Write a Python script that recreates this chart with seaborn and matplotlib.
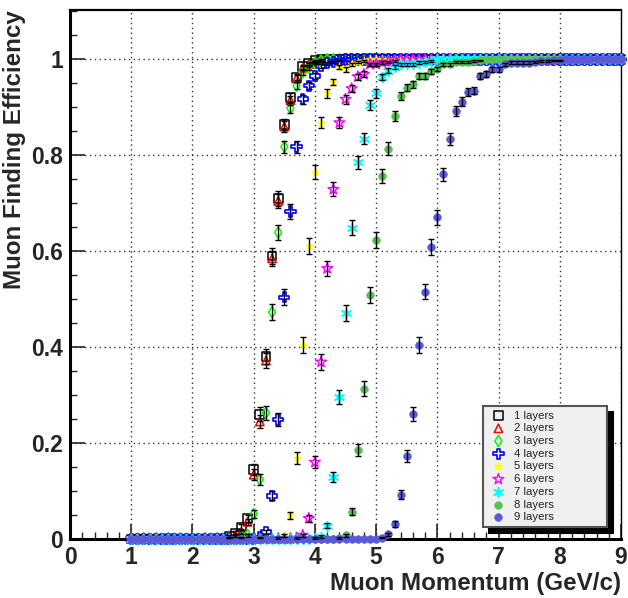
import numpy as np
import pandas as pd
import matplotlib
matplotlib.use("Agg")
import matplotlib.pyplot as plt
from matplotlib.ticker import FuncFormatter
import seaborn as sns

# ---------------- data ----------------
momentum = np.round(np.arange(1.0, 9.0001, 0.1), 1)   # GeV/c bin centres

def series(n_zero, ramp):
    vals = [0.0] * n_zero + list(ramp)
    return vals + [1.0] * (len(momentum) - len(vals))

eff_1 = series(16, [0.005, 0.012, 0.025, 0.043, 0.145, 0.26, 0.38, 0.59, 0.71, 0.865,
                    0.92, 0.963, 0.985, 0.992, 0.997, 0.999])
eff_2 = series(16, [0.003, 0.008, 0.015, 0.036, 0.134, 0.245, 0.372, 0.585, 0.705, 0.86,
                    0.915, 0.96, 0.982, 0.99, 0.995, 0.998])
eff_3 = series(18, [0.003, 0.008, 0.052, 0.124, 0.263, 0.473, 0.639, 0.818, 0.898, 0.945,
                    0.973, 0.983, 0.993, 0.997])
eff_4 = series(21, [0.003, 0.015, 0.09, 0.249, 0.504, 0.683, 0.818, 0.917, 0.945, 0.965,
                    0.986, 0.992, 0.995, 0.998])
eff_5 = series(24, [0.002, 0.008, 0.049, 0.169, 0.404, 0.611, 0.765, 0.868, 0.929, 0.953,
                    0.985, 0.979, 0.99, 0.994, 0.997])
eff_6 = series(27, [0.002, 0.008, 0.043, 0.16, 0.369, 0.564, 0.729, 0.868, 0.917, 0.939,
                    0.964, 0.969, 0.99, 0.99, 0.993, 0.995, 0.997])
eff_7 = series(30, [0.002, 0.005, 0.028, 0.129, 0.296, 0.472, 0.649, 0.785, 0.835, 0.905,
                    0.929, 0.964, 0.976, 0.985, 0.99, 0.99, 0.99, 0.993, 0.995, 0.997])
eff_8 = series(34, [0.002, 0.008, 0.057, 0.186, 0.313, 0.509, 0.623, 0.757, 0.814, 0.882,
                    0.924, 0.941, 0.948, 0.966, 0.966, 0.975, 0.98, 0.99, 0.99, 0.995,
                    0.995, 0.995, 0.997, 0.998])
eff_9 = series(41, [0.003, 0.01, 0.031, 0.092, 0.173, 0.261, 0.405, 0.516, 0.609, 0.671,
                    0.76, 0.834, 0.892, 0.912, 0.932, 0.935, 0.966, 0.969, 0.979, 0.979,
                    0.99, 0.993, 0.993, 0.993, 0.993, 0.995, 0.997, 0.997, 0.998, 0.998])

labels = ["1 layers", "2 layers", "3 layers", "4 layers", "5 layers",
          "6 layers", "7 layers", "8 layers", "9 layers"]
efficiencies = [eff_1, eff_2, eff_3, eff_4, eff_5, eff_6, eff_7, eff_8, eff_9]
n_events = 900   # binomial error scale

# ---------------- styles ----------------
styles = [
    dict(marker="s", s=40, color="black", facecolor="none", edgecolor="black", linewidth=1.1),
    dict(marker="^", s=36, color="red", facecolor="none", edgecolor="red", linewidth=1.1),
    dict(marker="d", s=34, color="#00ff00", facecolor="none", edgecolor="#00ff00", linewidth=1.1),
    dict(marker="P", s=55, color="blue", facecolor="none", edgecolor="blue", linewidth=1.2),
    dict(marker="*", s=40, color="#ffff00", edgecolor="#ffff00", linewidth=0.5),
    dict(marker="*", s=65, color="#ff00ff", facecolor="none", edgecolor="#ff00ff", linewidth=1.0),
    dict(marker=(6, 2, 0), s=48, color="#00ffff", linewidth=1.2),
    dict(marker="o", s=30, color="#55c155", edgecolor="#55c155", linewidth=0.5),
    dict(marker="o", s=30, color="#5a5ad8", edgecolor="#5a5ad8", linewidth=0.5),
]

sns.set_style("white")
plt.rcParams["font.family"] = ["Liberation Sans", "DejaVu Sans"]

fig = plt.figure(figsize=(6.28, 5.98), dpi=100)
ax = fig.add_axes([0.1115, 0.0987, 0.8774, 0.8846])

for i, (lab, eff, st) in enumerate(zip(labels, efficiencies, styles)):
    df = pd.DataFrame({"momentum": momentum, "efficiency": eff})
    sns.scatterplot(data=df, x="momentum", y="efficiency", ax=ax, label=lab,
                    zorder=3 + i * 0.1, clip_on=False, **st)
    e = np.array(eff)
    err = np.sqrt(e * (1 - e) / n_events)
    mask = err > 0
    ax.errorbar(momentum[mask], e[mask], yerr=err[mask], fmt="none", ecolor="black",
                elinewidth=1.0, capsize=2.5, capthick=1.0, zorder=4)

ax.set_xlim(0, 9)
ax.set_ylim(0, 1.103)
ax.set_xticks(range(0, 10))
ax.set_xticks(np.arange(0, 9.001, 0.2), minor=True)
ax.set_yticks([0, 0.2, 0.4, 0.6, 0.8, 1.0])
ax.set_yticks(np.arange(0, 1.101, 0.05), minor=True)
ax.yaxis.set_major_formatter(FuncFormatter(lambda v, p: f"{v:g}"))
ax.tick_params(which="major", direction="in", length=11, width=1.2, pad=5,
               labelsize=16.5, top=False, right=False, bottom=True, left=True)
ax.tick_params(which="minor", direction="in", length=5, width=1.0,
               top=False, right=False, bottom=True, left=True)
for t in ax.get_xticklabels() + ax.get_yticklabels():
    t.set_fontweight("bold")

ax.grid(True, which="major", linestyle=(0, (1, 2.5)), color="#333333", linewidth=1.0)
ax.set_axisbelow(True)

for side, lw in [("left", 2.2), ("bottom", 2.2), ("top", 1.6), ("right", 1.0)]:
    ax.spines[side].set_linewidth(lw)
    ax.spines[side].set_color("black")

ax.set_xlabel("Muon Momentum (GeV/c)", fontsize=17.4, fontweight="bold", loc="right", labelpad=2)
ax.set_ylabel("Muon Finding Efficiency", fontsize=17.4, fontweight="bold", loc="top", labelpad=4)

leg = ax.legend(loc="lower left", bbox_to_anchor=(0.7495, 0.0227, 0.225, 0.227),
                mode="expand", fontsize=8.2, frameon=True, fancybox=False,
                facecolor="#f0f0f0", edgecolor="#555555", framealpha=1,
                borderpad=0.4, labelspacing=0.24, handlelength=1.9, handletextpad=0.45,
                borderaxespad=0,
                shadow={"ox": 4.5, "oy": -4.5, "facecolor": "black", "edgecolor": "black", "alpha": 1})
leg.get_frame().set_linewidth(1.5)
leg.set_zorder(10)
for t in leg.get_texts():
    t.set_color("#222222")

fig.savefig("out.png", dpi=100)
